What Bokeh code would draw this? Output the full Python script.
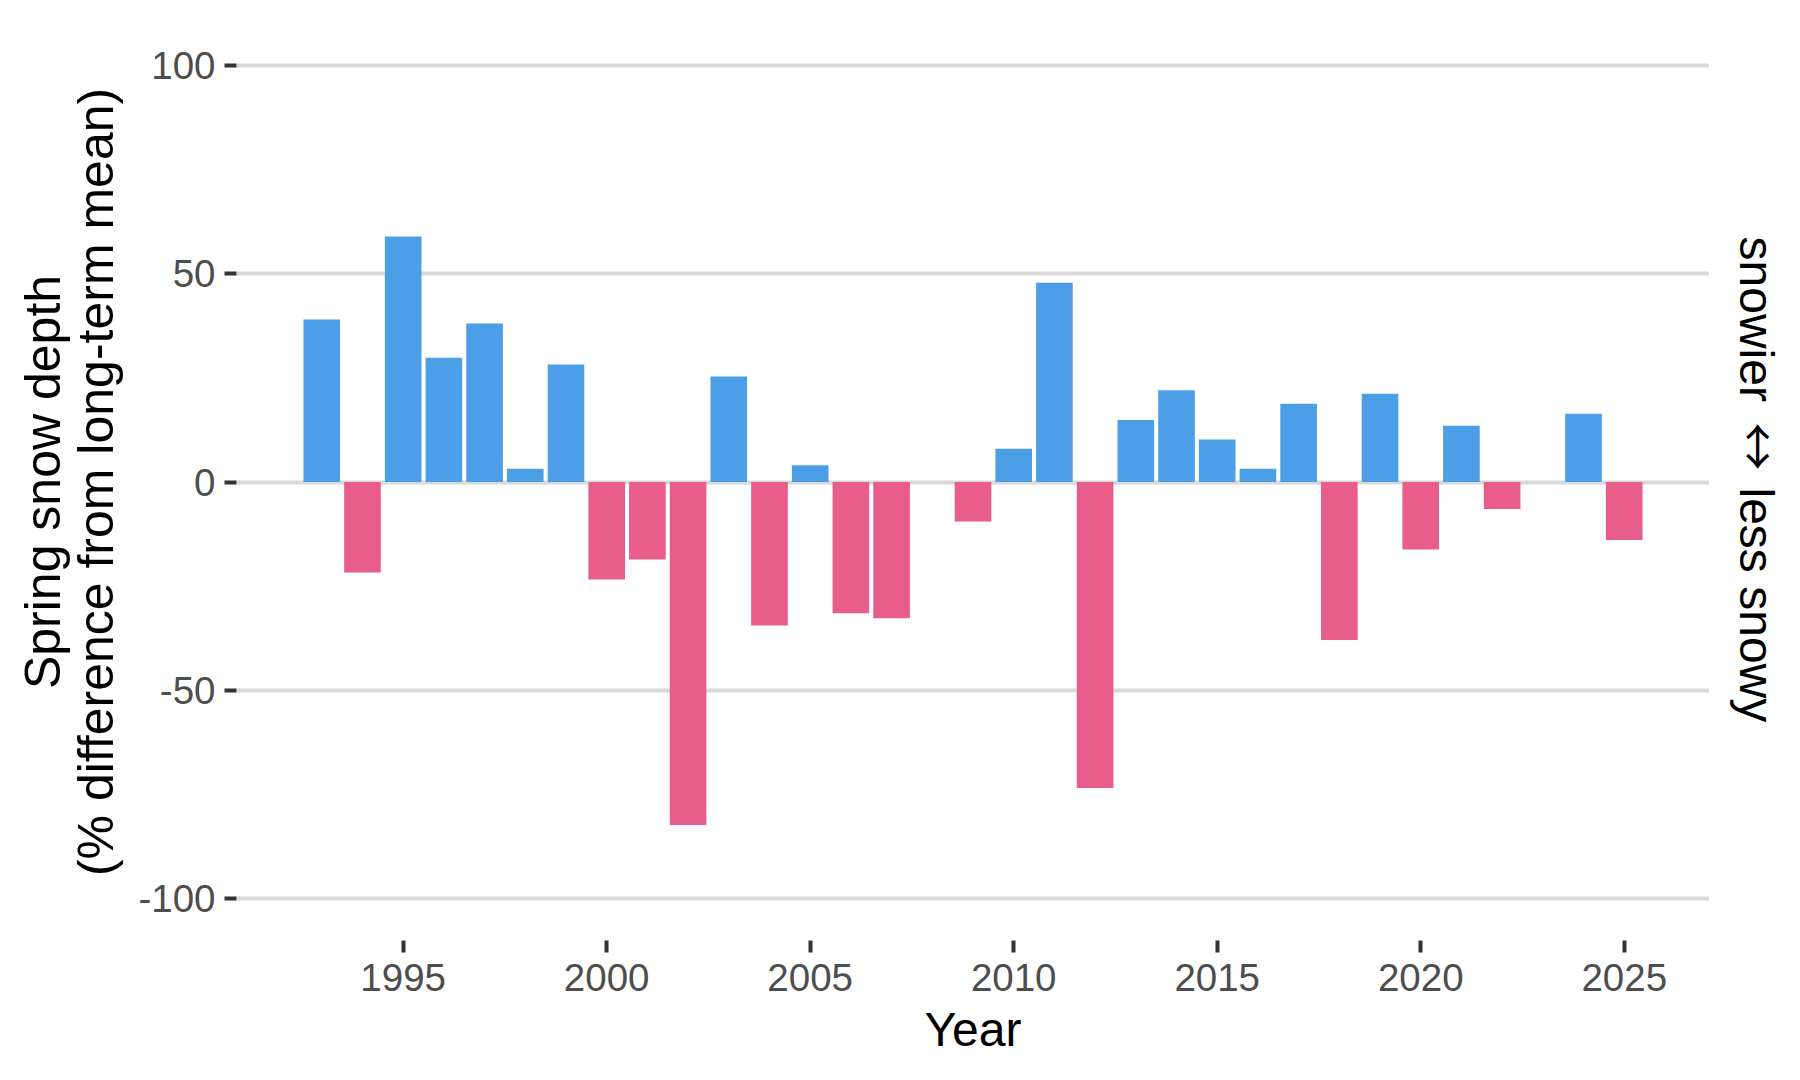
import math

from bokeh.plotting import figure
from bokeh.layouts import row
from bokeh.models import ColumnDataSource, Range1d, FixedTicker
from bokeh.core.properties import value
from bokeh.embed import file_html
from bokeh.resources import INLINE

# Spring snow depth anomaly per year (% difference from long-term mean)
years = [1993, 1994, 1995, 1996, 1997, 1998, 1999, 2000, 2001, 2002, 2003,
         2004, 2005, 2006, 2007, 2009, 2010, 2011, 2012, 2013, 2014, 2015,
         2016, 2017, 2018, 2019, 2020, 2021, 2022, 2024, 2025]
anomaly = [39.0, -21.7, 58.9, 29.8, 38.0, 3.2, 28.2, -23.4, -18.6, -82.3, 25.3,
           -34.4, 4.0, -31.5, -32.7, -9.5, 8.0, 47.8, -73.4, 14.9, 22.0, 10.2,
           3.2, 18.8, -37.9, 21.2, -16.2, 13.5, -6.5, 16.4, -13.9]

y_ticks = [-100, -50, 0, 50, 100]
y_tick_labels = ["-100", "-50", "0", "50", "100"]
x_ticks = [1995, 2000, 2005, 2010, 2015, 2020, 2025]

SNOWIER = "#4C9EE6"
LESS_SNOWY = "#E85D8A"
FONT = "Liberation Sans"

colors = [SNOWIER if v >= 0 else LESS_SNOWY for v in anomaly]
src = ColumnDataSource(dict(year=years, value=anomaly, color=colors))

p = figure(width=1709, height=1080, output_backend="svg", toolbar_location=None,
           x_range=Range1d(1990.905, 2027.095), y_range=Range1d(-110, 110),
           min_border_left=236, min_border_right=0, min_border_top=23,
           min_border_bottom=140)
p.outline_line_color = None
p.background_fill_color = "white"
p.border_fill_color = "white"

p.vbar(x="year", top="value", bottom=0, width=0.9, color="color",
       line_color=None, source=src)

# grid: horizontal major lines only
p.xgrid.grid_line_color = None
p.ygrid.grid_line_color = "#D9D9D9"
p.ygrid.grid_line_width = 4
p.ygrid.ticker = FixedTicker(ticks=y_ticks)

# y axis
ya = p.yaxis[0]
ya.ticker = FixedTicker(ticks=y_ticks)
ya.major_label_overrides = {t: s for t, s in zip(y_ticks, y_tick_labels)}
ya.axis_line_color = None
ya.major_tick_line_color = "#333333"
ya.major_tick_line_width = 4
ya.major_tick_out = 12
ya.major_tick_in = 0
ya.minor_tick_line_color = None
ya.major_label_standoff = 9
ya.major_label_text_font = FONT
ya.major_label_text_font_size = "38.5px"
ya.major_label_text_color = "#4D4D4D"
ya.axis_label = "Spring snow depth\n(% difference from long-term mean)"
ya.axis_label_text_font = FONT
ya.axis_label_text_font_size = "50px"
ya.axis_label_text_font_style = "normal"
ya.axis_label_text_color = "black"
ya.axis_label_text_line_height = 0.96
ya.axis_label_standoff = 11

# x axis
xa = p.xaxis[0]
xa.ticker = FixedTicker(ticks=x_ticks)
xa.axis_line_color = None
xa.major_tick_line_color = "#333333"
xa.major_tick_line_width = 4
xa.major_tick_out = 12
xa.major_tick_in = 0
xa.minor_tick_line_color = None
xa.major_label_standoff = 11
xa.major_label_text_font = FONT
xa.major_label_text_font_size = "38.5px"
xa.major_label_text_color = "#4D4D4D"
xa.axis_label = "Year"
xa.axis_label_text_font = FONT
xa.axis_label_text_font_size = "48px"
xa.axis_label_text_font_style = "normal"
xa.axis_label_text_color = "black"
xa.axis_label_standoff = 9

# right-hand caption strip, read top to bottom; its frame lines up with the
# chart's frame, and its ranges are in page pixels
cap = figure(width=91, height=1080, output_backend="svg", toolbar_location=None,
             x_range=Range1d(0, 91), y_range=Range1d(940, 23),
             x_axis_type=None, y_axis_type=None, min_border=0)
cap.outline_line_color = None
cap.grid.visible = False
cap.background_fill_color = "white"
cap.border_fill_color = "white"

cap_words = ["snowier", "less snowy"]
cap_word_x = [47, 47]
cap_word_y = [236, 487]
cap.text(x=cap_word_x, y=cap_word_y, text=cap_words, angle=-math.pi / 2,
         text_align="left", text_baseline="alphabetic",
         text_font=value(FONT), text_font_size="48px", text_color="black")
cap.text(x=[51], y=[446], text=["\u2194"], angle=-math.pi / 2,
         text_align="center", text_baseline="middle",
         text_font=value("Noto Sans CJK SC"), text_font_size="48px",
         text_color="black")

layout = row(p, cap, spacing=0)
open("out.html", "w").write(file_html(layout, INLINE))
